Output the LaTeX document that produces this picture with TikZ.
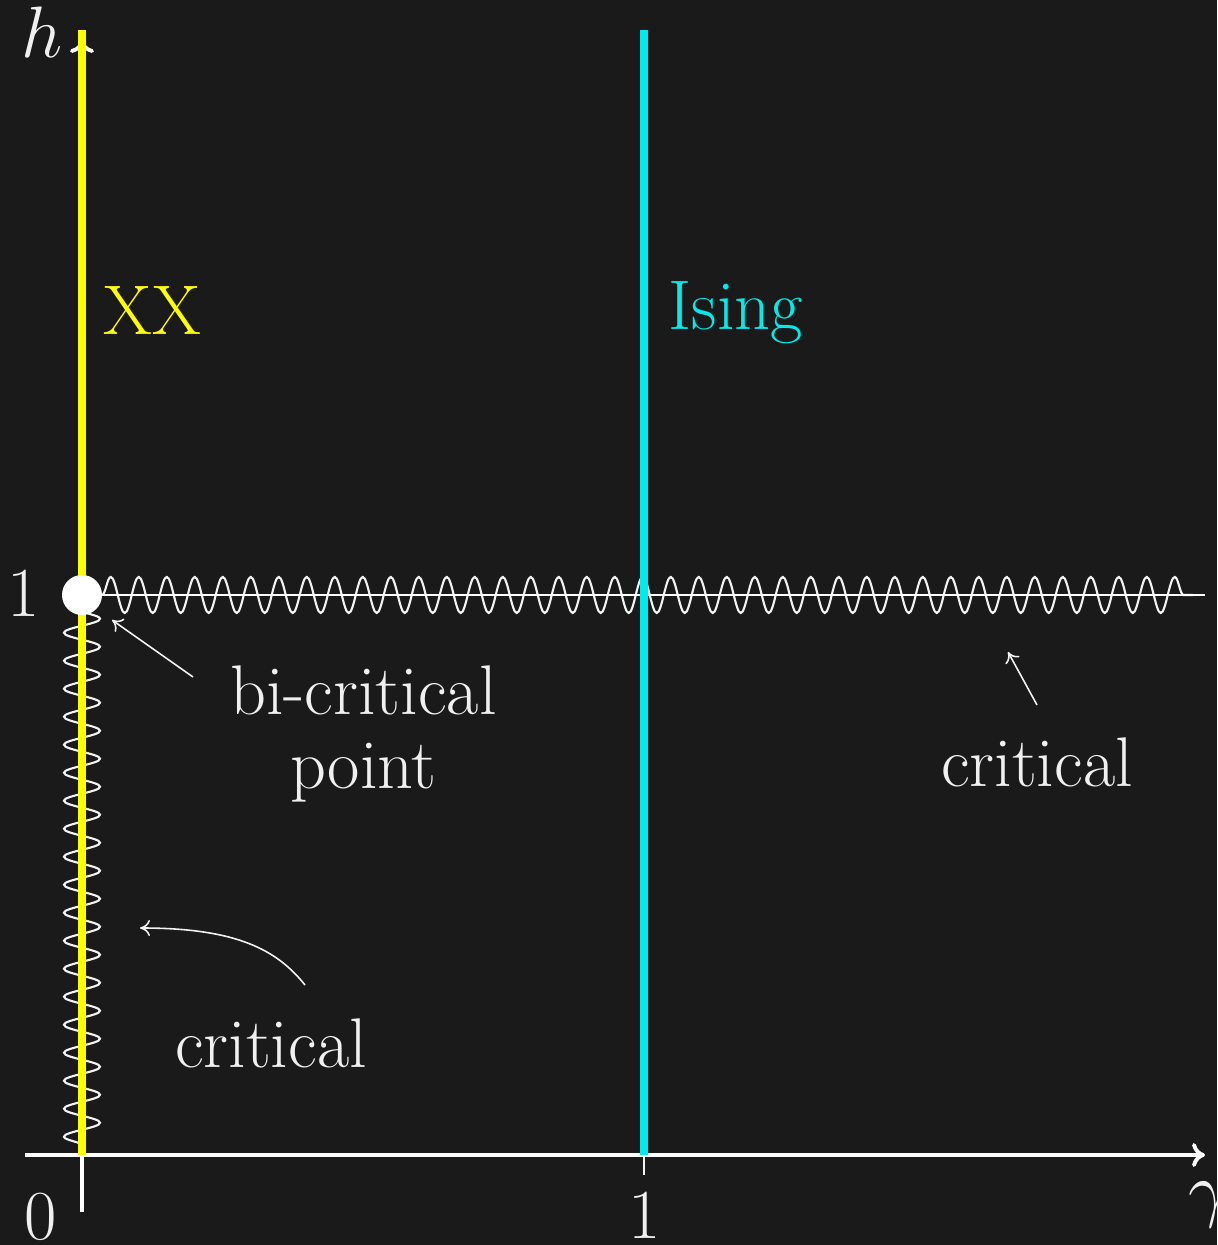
\documentclass[tikz,border=0pt]{standalone}
\usepackage{tikz}
\usetikzlibrary{arrows.meta, positioning, decorations.pathmorphing}

\definecolor{bgdark}{RGB}{26,26,26}
\definecolor{xxyellow}{RGB}{255,255,0}
\definecolor{isingcyan}{RGB}{0,235,235}
\definecolor{chalk}{RGB}{240,240,240}

\tikzset{
  every node/.style={font=\fontsize{20}{21}\selectfont, text=chalk},
  lbl/.style={inner sep=0pt},
  axis/.style={draw=white, line width=1.1pt, -{To[length=1.3mm,width=2.4mm]}},
  phase/.style={line width=2.5pt},
  wiggle/.style={
    draw=chalk!70, line width=0.6pt,
    decorate, decoration={snake, amplitude=1.8mm, segment length=2.8mm}
  },
  pointer/.style={-{To[length=1mm,width=1.6mm]}, draw=chalk!85, line width=0.45pt},
}

\begin{document}
\begin{tikzpicture}[x=1cm, y=1cm]

    % Background
    \fill[bgdark] (-0.82,-0.90) rectangle (11.35,11.55);
    \useasboundingbox (-0.82,-0.90) rectangle (11.35,11.55);

    % Axis ends
    \coordinate (origin) at (0,0);
    \coordinate (xstart) at (-0.57,0);
    \coordinate (xend) at (11.23,0);
    \coordinate (ystart) at (0,-0.57);
    \coordinate (yend) at (0,11.15);
    \coordinate (onetick) at (5.62,-0.20);
    \coordinate (onebase) at (5.62,0);

    % Critical lines
    \draw[wiggle] (0.20,5.60) -- (11.11,5.60);
    \draw[draw=white, line width=0.6pt] (0.20,5.60) -- (11.23,5.60);
    \draw[wiggle] (0,5.45) -- (0,0.05);

    % Axes
    \draw[axis] (xstart) -- (xend);
    \draw[axis] (ystart) -- (yend);
    \draw[draw=chalk!80, line width=0.6pt] (onebase) -- (onetick);

    % Phase lines
    \draw[phase, xxyellow] (origin) -- (0,11.25);
    \draw[phase, isingcyan] (onebase) -- (5.62,11.25);

    % Bi-critical point
    \node[circle, fill=white, minimum size=4mm, inner sep=0pt] (bicrit) at (0,5.60) {};

    % Axis labels
    \node[lbl] (hlabel) at (-0.40,11.23) {$h$};
    \node[lbl] (gammalabel) at (11.27,-0.50) {$\gamma$};
    \node[lbl] (hone) at (-0.58,5.62) {1};
    \node[lbl] (zero) at (-0.41,-0.62) {0};
    \node[lbl] (gammaone) at (5.63,-0.60) {1};

    % Phase labels
    \node[lbl, anchor=base west, text=xxyellow] (xx) at (0.21,8.20) {XX};
    \node[lbl, anchor=base west, text=isingcyan] (ising) at (5.86,8.25) {Ising};
    \node[lbl, align=center] (bilabel) at (2.815,4.21)
      {bi-critical\\point};
    \node[lbl, anchor=base] (critright) at (9.55,3.68) {critical};
    \node[lbl, anchor=base] (critleft) at (1.89,0.88) {critical};

    % Pointers
    \coordinate (bifrom) at (1.11,4.78);
    \coordinate (bito) at (0.30,5.35);
    \coordinate (crfrom) at (9.55,4.50);
    \coordinate (crto) at (9.26,5.03);
    \coordinate (clfrom) at (2.23,1.70);
    \coordinate (clto) at (0.58,2.27);
    \draw[pointer] (bifrom) -- (bito);
    \draw[pointer] (crfrom) -- (crto);
    \draw[pointer] (clfrom) .. controls (1.95,2.05) and (1.55,2.27) .. (clto);

\end{tikzpicture}
\end{document}
